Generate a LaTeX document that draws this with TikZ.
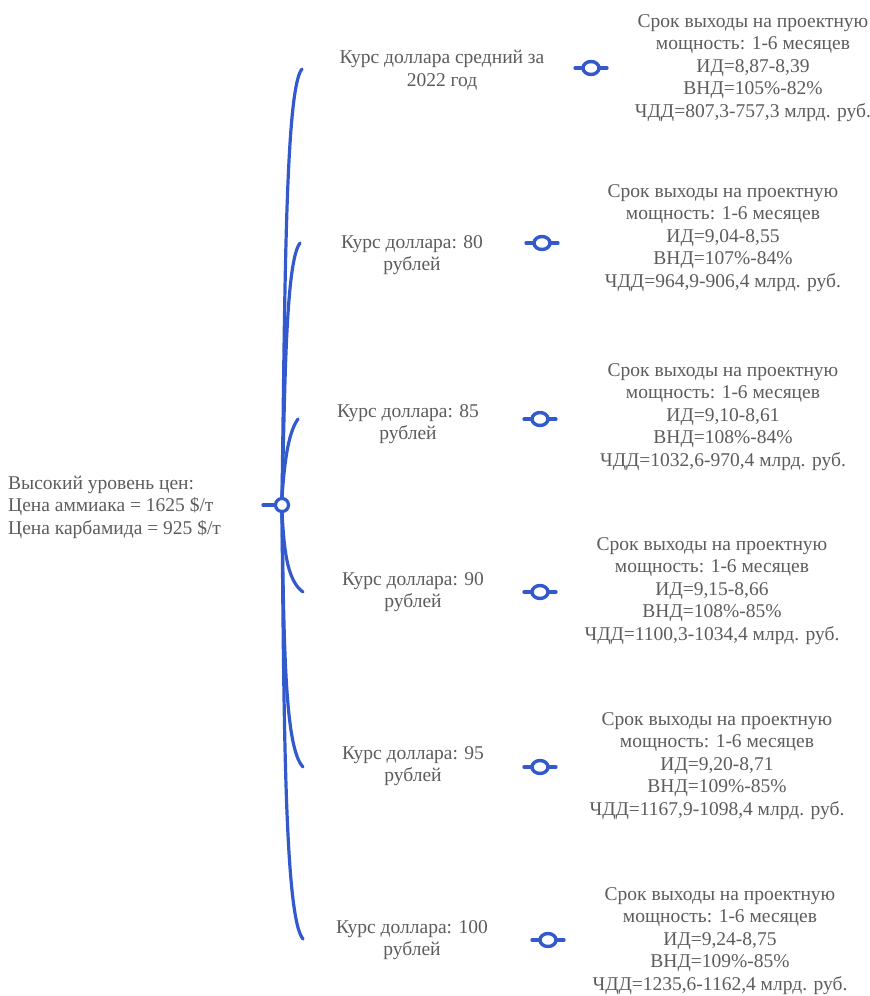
\documentclass[tikz,border=0pt]{standalone}
\usepackage{fontspec}
\setmainfont{Liberation Serif}
\usetikzlibrary{shapes.geometric}
\definecolor{txtgray}{RGB}{92,92,92}
\definecolor{mapblue}{RGB}{50,90,205}
\tikzset{
  lbl/.style={text=txtgray, align=center, inner sep=0pt, font=\fontsize{19.5}{22.5}\selectfont},
  rootlbl/.style={text=txtgray, align=left, inner sep=0pt, anchor=west, font=\fontsize{19.5}{22.5}\selectfont},
  br/.style={draw=mapblue, line width=3.2pt, line cap=round},
  hub/.style={circle, draw=mapblue, fill=white, line width=3.2pt, minimum size=13pt, inner sep=0pt},
  knob/.style={ellipse, draw=mapblue, fill=white, line width=3.4pt, minimum width=16pt, minimum height=13pt, inner sep=0pt},
}
\begin{document}
\begin{tikzpicture}[x=1pt,y=-1pt]
\useasboundingbox (0,0) rectangle (870,996);
% root
\node[rootlbl] (root) at (8,507) {Высокий уровень цен:\\Цена аммиака = 1625 \$/т\\Цена карбамида = 925 \$/т};
\node[hub] (rc) at (282,505) {};
\coordinate (stub) at (263,505);
\draw[br] (stub) -- (rc.west);
% branch ends
\coordinate (b1) at (302,69);
\coordinate (b2) at (300,243);
\coordinate (b3) at (298,419);
\coordinate (b4) at (303,592);
\coordinate (b5) at (303,767);
\coordinate (b6) at (303,939);
\draw[br] (rc.north) .. controls (285,300) and (285,88) .. (b1);
\draw[br] (rc.north) .. controls (285,400) and (285,262) .. (b2);
\draw[br] (rc.north) .. controls (284,470) and (287,434) .. (b3);
\draw[br] (rc.south) .. controls (284,545) and (286,580) .. (b4);
\draw[br] (rc.south) .. controls (284,650) and (285,748) .. (b5);
\draw[br] (rc.south) .. controls (284,730) and (285,918) .. (b6);
% branch labels
\node[lbl] (l1) at (442,70) {Курс доллара средний за\\2022 год};
\node[lbl] (l2) at (412,255) {Курс доллара: 80\\рублей};
\node[lbl] (l3) at (408,424) {Курс доллара: 85\\рублей};
\node[lbl] (l4) at (413,592) {Курс доллара: 90\\рублей};
\node[lbl] (l5) at (413,766) {Курс доллара: 95\\рублей};
\node[lbl] (l6) at (412,940) {Курс доллара: 100\\рублей};
% knobs
\foreach \n/\x/\y in {1/591/68, 2/542/243, 3/540/419, 4/540/592, 5/540/767, 6/548/940}{
  \draw[br] (\x-16,\y) -- (\x+16,\y);
  \node[knob] (k\n) at (\x,\y) {};
}
% detail blocks
\node[lbl] (d1) at (753,68) {Срок выходы на проектную\\мощность: 1-6 месяцев\\ИД=8,87-8,39\\ВНД=105\%-82\%\\ЧДД=807,3-757,3 млрд. руб.};
\node[lbl] (d2) at (723,238) {Срок выходы на проектную\\мощность: 1-6 месяцев\\ИД=9,04-8,55\\ВНД=107\%-84\%\\ЧДД=964,9-906,4 млрд. руб.};
\node[lbl] (d3) at (723,417) {Срок выходы на проектную\\мощность: 1-6 месяцев\\ИД=9,10-8,61\\ВНД=108\%-84\%\\ЧДД=1032,6-970,4 млрд. руб.};
\node[lbl] (d4) at (712,591) {Срок выходы на проектную\\мощность: 1-6 месяцев\\ИД=9,15-8,66\\ВНД=108\%-85\%\\ЧДД=1100,3-1034,4 млрд. руб.};
\node[lbl] (d5) at (717,766) {Срок выходы на проектную\\мощность: 1-6 месяцев\\ИД=9,20-8,71\\ВНД=109\%-85\%\\ЧДД=1167,9-1098,4 млрд. руб.};
\node[lbl] (d6) at (720,941) {Срок выходы на проектную\\мощность: 1-6 месяцев\\ИД=9,24-8,75\\ВНД=109\%-85\%\\ЧДД=1235,6-1162,4 млрд. руб.};
\end{tikzpicture}
\end{document}
